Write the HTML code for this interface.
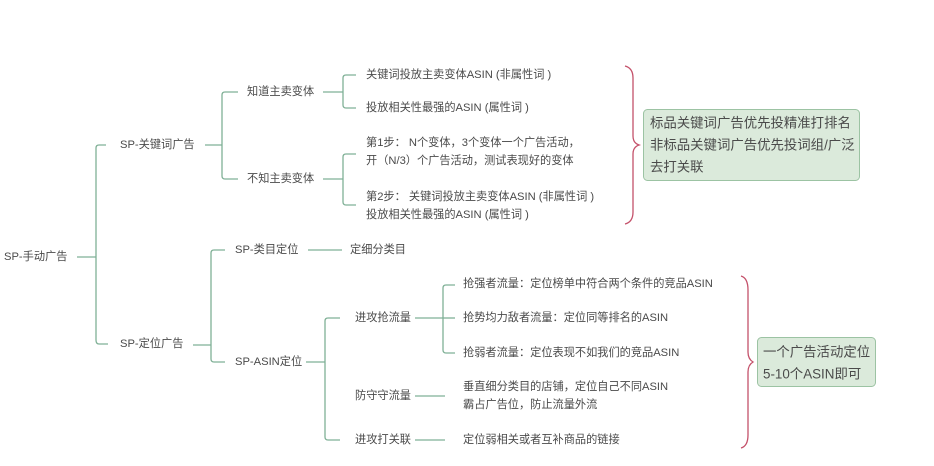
<!DOCTYPE html>
<html><head><meta charset="utf-8"><style>
html,body{margin:0;padding:0;background:#fff;width:934px;height:466px;overflow:hidden}
svg text{font-family:"Liberation Sans","Noto Sans CJK SC",sans-serif;font-size:11.2px;fill:#4a4a4a;dominant-baseline:middle}
</style></head><body>
<svg width="934" height="466" viewBox="0 0 934 466" xmlns="http://www.w3.org/2000/svg">
<g fill="none" stroke="#7fb096" stroke-width="1.3">
<path d="M77 257H96"/>
<path d="M106 145H99Q96 145 96 148V340Q96 344 99 344H108"/>
<path d="M205 145H222"/>
<path d="M238 92H225Q222 92 222 95V176Q222 179 225 179H238"/>
<path d="M323 92H343"/><path d="M356 75H346Q343 75 343 78V105Q343 108 346 108H356"/>
<path d="M323 179H343"/><path d="M356 154H346Q343 154 343 157V202Q343 205 346 205H356"/>
<path d="M193 345H211"/>
<path d="M225 250H214Q211 250 211 253V359Q211 362 214 362H225"/>
<path d="M308 250H342"/>
<path d="M306 362H325"/>
<path d="M340 318H328Q325 318 325 321V437Q325 440 328 440H340"/>
<path d="M415 318H443"/>
<path d="M455 285H446Q443 285 443 288V350Q443 353 446 353H455"/>
<path d="M443 318H455"/>
<path d="M415 396H445"/>
<path d="M415 440H445"/>
</g>
<g fill="none" stroke="#c4516a" stroke-width="1.3">
<path d="M625 66Q633 68 633 78V136Q633 143 639 145Q633 147 633 154V212Q633 222 625 224"/>
<path d="M741 276Q748 278 748 290V352Q748 359 753 362Q748 365 748 372V435Q748 446 741 448"/>
</g>
<rect x="643.5" y="109.5" width="216" height="71" rx="4" fill="#dbeadb" stroke="#9cc3a3"/>
<rect x="757.5" y="337.5" width="118" height="49" rx="4" fill="#dbeadb" stroke="#9cc3a3"/>
<text x="4" y="257">SP-手动广告</text>
<text x="120" y="145">SP-关键词广告</text>
<text x="247" y="92">知道主卖变体</text>
<text x="247" y="179">不知主卖变体</text>
<text x="366" y="75">关键词投放主卖变体ASIN (非属性词 )</text>
<text x="366" y="108">投放相关性最强的ASIN (属性词 )</text>
<text x="366" y="143">第1步： N个变体，3个变体一个广告活动，</text>
<text x="366" y="161">开（N/3）个广告活动，测试表现好的变体</text>
<text x="366" y="197">第2步： 关键词投放主卖变体ASIN (非属性词 )</text>
<text x="366" y="215">投放相关性最强的ASIN (属性词 )</text>
<text x="120" y="344">SP-定位广告</text>
<text x="235" y="250">SP-类目定位</text>
<text x="350" y="250">定细分类目</text>
<text x="235" y="362">SP-ASIN定位</text>
<text x="355" y="318">进攻抢流量</text>
<text x="355" y="396">防守守流量</text>
<text x="355" y="440">进攻打关联</text>
<text x="463" y="284">抢强者流量：定位榜单中符合两个条件的竞品ASIN</text>
<text x="463" y="318">抢势均力敌者流量：定位同等排名的ASIN</text>
<text x="463" y="353">抢弱者流量：定位表现不如我们的竞品ASIN</text>
<text x="463" y="387">垂直细分类目的店铺，定位自己不同ASIN</text>
<text x="463" y="405">霸占广告位，防止流量外流</text>
<text x="463" y="440">定位弱相关或者互补商品的链接</text>
<text x="650" y="124" style="font-size:13.4px">标品关键词广告优先投精准打排名</text>
<text x="650" y="146" style="font-size:13.4px">非标品关键词广告优先投词组/广泛</text>
<text x="650" y="168" style="font-size:13.4px">去打关联</text>
<text x="763" y="353" style="font-size:13.4px">一个广告活动定位</text>
<text x="763" y="375" style="font-size:13.4px">5-10个ASIN即可</text>
</svg>
</body></html>
